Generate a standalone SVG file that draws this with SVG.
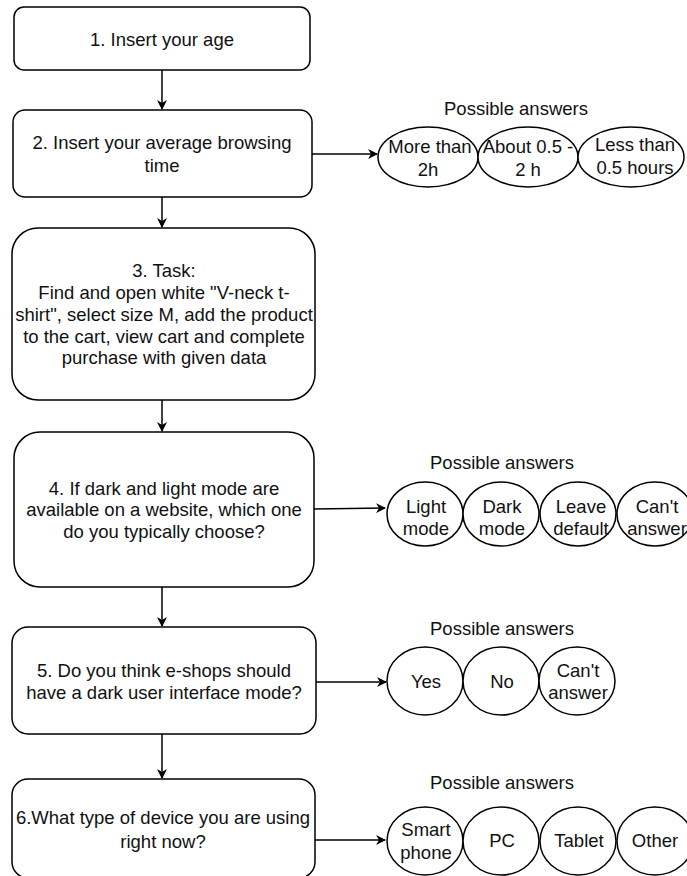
<svg xmlns="http://www.w3.org/2000/svg" width="687" height="876" viewBox="0 0 687 876">
<defs>
<style>
.box{fill:#fff;stroke:#000;stroke-width:1.5}
.ell{fill:#fff;stroke:#000;stroke-width:1.5}
.t{font-family:"Liberation Sans",Arial,sans-serif;font-size:18.5px;fill:#111;text-anchor:middle}
.c{fill:none;stroke:#000;stroke-width:1.5}
</style>
<marker id="ah" viewBox="0 0 10 10" refX="9" refY="5" markerWidth="10" markerHeight="10" markerUnits="userSpaceOnUse" orient="auto">
<path d="M0,0 L10,5 L0,10 L3,5 Z" fill="#000"/>
</marker>
</defs>
<rect width="687" height="876" fill="#fff"/>
<g id="connectors">
<line class="c" x1="162" y1="70" x2="162" y2="109" marker-end="url(#ah)"/>
<line class="c" x1="162" y1="197" x2="162" y2="227" marker-end="url(#ah)"/>
<line class="c" x1="162" y1="400" x2="162" y2="431" marker-end="url(#ah)"/>
<line class="c" x1="162" y1="587" x2="162" y2="626" marker-end="url(#ah)"/>
<line class="c" x1="162" y1="734" x2="162" y2="778" marker-end="url(#ah)"/>
<line class="c" x1="312" y1="154" x2="377" y2="154" marker-end="url(#ah)"/>
<line class="c" x1="314" y1="509" x2="385" y2="508" marker-end="url(#ah)"/>
<line class="c" x1="316" y1="682" x2="386" y2="682" marker-end="url(#ah)"/>
<line class="c" x1="315" y1="840" x2="385" y2="840" marker-end="url(#ah)"/>
</g>
<g id="n1"><rect class="box" x="14" y="7" width="296" height="63" rx="10"/><text class="t" x="162" y="46">1. Insert your age</text></g>
<g id="n2"><rect class="box" x="13" y="110" width="299" height="87" rx="12"/><text class="t" x="162" y="149">2. Insert your average browsing</text><text class="t" x="162" y="172">time</text></g>
<g id="n3"><rect class="box" x="12" y="228" width="303" height="172" rx="26"/>
<text class="t" x="164" y="277">3. Task:</text>
<text class="t" x="164" y="299">Find and open white "V-neck t-</text>
<text class="t" x="164" y="321">shirt", select size M, add the product</text>
<text class="t" x="164" y="343">to the cart, view cart and complete</text>
<text class="t" x="164" y="364">purchase with given data</text></g>
<g id="n4"><rect class="box" x="14" y="432" width="300" height="155" rx="26"/>
<text class="t" x="164" y="495">4. If dark and light mode are</text>
<text class="t" x="164" y="516">available on a website, which one</text>
<text class="t" x="164" y="538">do you typically choose?</text></g>
<g id="n5"><rect class="box" x="12" y="627" width="304" height="107" rx="16"/>
<text class="t" x="164" y="677">5. Do you think e-shops should</text>
<text class="t" x="164" y="699">have a dark user interface mode?</text></g>
<g id="n6"><rect class="box" x="12" y="779" width="303" height="99" rx="16"/>
<text class="t" x="163" y="824">6.What type of device you are using</text>
<text class="t" x="163" y="848">right now?</text></g>

<g id="q2answers">
<text class="t" x="516" y="115">Possible answers</text>
<g id="a2-1"><ellipse class="ell" cx="428" cy="157" rx="50" ry="30"/><text class="t" x="430" y="153">More than</text><text class="t" x="428" y="176">2h</text></g>
<g id="a2-2"><ellipse class="ell" cx="528" cy="157" rx="50" ry="30"/><text class="t" x="528" y="153">About 0.5 -</text><text class="t" x="528" y="176">2 h</text></g>
<g id="a2-3"><ellipse class="ell" cx="631" cy="157" rx="53" ry="30"/><text class="t" x="635" y="151">Less than</text><text class="t" x="635" y="174">0.5 hours</text></g>
</g>
<g id="q4answers">
<text class="t" x="502" y="469">Possible answers</text>
<g id="a4-1"><ellipse class="ell" cx="425" cy="514" rx="38" ry="32"/><text class="t" x="426" y="513">Light</text><text class="t" x="426" y="535">mode</text></g>
<g id="a4-2"><ellipse class="ell" cx="501" cy="514" rx="38" ry="32"/><text class="t" x="502" y="513">Dark</text><text class="t" x="502" y="535">mode</text></g>
<g id="a4-3"><ellipse class="ell" cx="578" cy="514" rx="38" ry="32"/><text class="t" x="581" y="513">Leave</text><text class="t" x="581" y="535">default</text></g>
<g id="a4-4"><ellipse class="ell" cx="655" cy="514" rx="38" ry="32"/><text class="t" x="657" y="513">Can't</text><text class="t" x="657" y="535">answer</text></g>
</g>
<g id="q5answers">
<text class="t" x="502" y="635">Possible answers</text>
<g id="a5-1"><ellipse class="ell" cx="425" cy="681" rx="38" ry="34"/><text class="t" x="426" y="688">Yes</text></g>
<g id="a5-2"><ellipse class="ell" cx="501" cy="681" rx="38" ry="34"/><text class="t" x="502" y="688">No</text></g>
<g id="a5-3"><ellipse class="ell" cx="577" cy="681" rx="38" ry="34"/><text class="t" x="578" y="677">Can't</text><text class="t" x="578" y="699">answer</text></g>
</g>
<g id="q6answers">
<text class="t" x="502" y="789">Possible answers</text>
<g id="a6-1"><ellipse class="ell" cx="425" cy="841" rx="38" ry="34"/><text class="t" x="426" y="836">Smart</text><text class="t" x="426" y="859">phone</text></g>
<g id="a6-2"><ellipse class="ell" cx="501" cy="841" rx="38" ry="34"/><text class="t" x="502" y="847">PC</text></g>
<g id="a6-3"><ellipse class="ell" cx="578" cy="841" rx="38" ry="34"/><text class="t" x="579" y="847">Tablet</text></g>
<g id="a6-4"><ellipse class="ell" cx="655" cy="841" rx="38" ry="34"/><text class="t" x="655" y="847">Other</text></g>
</g>
</svg>
